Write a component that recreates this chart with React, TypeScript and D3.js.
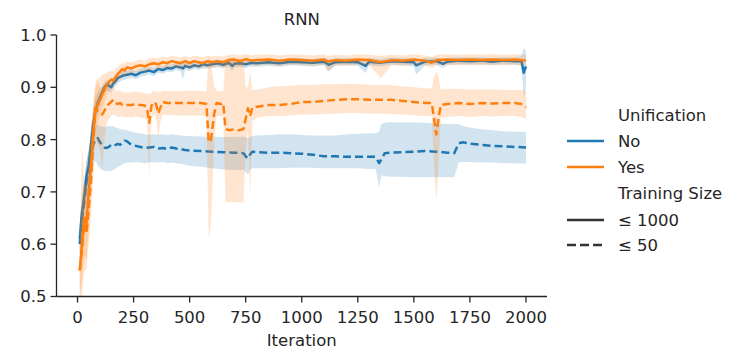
import React from "react";
import * as d3 from "d3";

type Row = [number, number, number, number]; // iteration, mean, lower, upper

const title = "RNN";
const xLabel = "Iteration";
const xTicks = [0, 250, 500, 750, 1000, 1250, 1500, 1750, 2000];
const yTicks = [0.5, 0.6, 0.7, 0.8, 0.9, 1.0];
const hueNames = ["No", "Yes"];
const sizeNames = ["≤ 1000", "≤ 50"];

// No unification, training size <= 1000
const noLarge: Row[] = [
  [10, 0.61, 0.58, 0.64], [20, 0.66, 0.63, 0.69], [30, 0.69, 0.66, 0.72], [40, 0.73, 0.7, 0.76],
  [50, 0.75, 0.72, 0.78], [60, 0.79, 0.76, 0.82], [70, 0.83, 0.8, 0.86], [80, 0.855, 0.83, 0.88],
  [90, 0.87, 0.85, 0.89], [100, 0.88, 0.865, 0.895], [110, 0.89, 0.876, 0.903], [120, 0.9, 0.888, 0.91],
  [130, 0.905, 0.894, 0.915], [140, 0.903, 0.892, 0.913], [150, 0.9, 0.89, 0.91], [160, 0.908, 0.898, 0.918],
  [170, 0.912, 0.902, 0.922], [180, 0.918, 0.908, 0.927], [190, 0.92, 0.911, 0.929], [200, 0.922, 0.913, 0.93],
  [220, 0.924, 0.916, 0.932], [240, 0.926, 0.918, 0.934], [260, 0.923, 0.915, 0.931], [280, 0.928, 0.92, 0.936],
  [300, 0.93, 0.922, 0.938], [320, 0.932, 0.925, 0.939], [340, 0.929, 0.921, 0.937], [360, 0.935, 0.928, 0.942],
  [380, 0.933, 0.926, 0.94], [400, 0.937, 0.93, 0.944], [420, 0.936, 0.929, 0.943], [440, 0.94, 0.933, 0.947],
  [460, 0.938, 0.93, 0.945], [470, 0.936, 0.915, 0.95], [480, 0.941, 0.933, 0.948], [500, 0.938, 0.931, 0.945],
  [520, 0.942, 0.935, 0.949], [540, 0.94, 0.933, 0.947], [560, 0.944, 0.937, 0.951], [580, 0.942, 0.935, 0.949],
  [600, 0.944, 0.937, 0.951], [625, 0.946, 0.939, 0.953], [650, 0.943, 0.936, 0.95], [675, 0.947, 0.94, 0.954],
  [690, 0.941, 0.93, 0.95], [700, 0.945, 0.938, 0.952], [725, 0.946, 0.939, 0.953], [750, 0.944, 0.937, 0.951],
  [775, 0.947, 0.94, 0.954], [800, 0.946, 0.939, 0.953], [850, 0.948, 0.941, 0.955], [900, 0.946, 0.939, 0.953],
  [950, 0.949, 0.942, 0.956], [1000, 0.948, 0.941, 0.955], [1050, 0.947, 0.94, 0.954], [1100, 0.949, 0.942, 0.956],
  [1120, 0.943, 0.93, 0.953], [1150, 0.948, 0.941, 0.955], [1200, 0.949, 0.942, 0.956], [1250, 0.948, 0.941, 0.955],
  [1285, 0.941, 0.927, 0.951], [1300, 0.949, 0.942, 0.956], [1350, 0.947, 0.94, 0.954], [1400, 0.95, 0.943, 0.957],
  [1450, 0.949, 0.942, 0.956], [1500, 0.948, 0.94, 0.955], [1510, 0.942, 0.924, 0.952], [1550, 0.949, 0.942, 0.956],
  [1600, 0.95, 0.943, 0.957], [1630, 0.945, 0.937, 0.953], [1650, 0.949, 0.942, 0.956], [1700, 0.951, 0.944, 0.958],
  [1750, 0.95, 0.943, 0.957], [1800, 0.951, 0.944, 0.958], [1850, 0.949, 0.942, 0.956], [1900, 0.951, 0.944, 0.958],
  [1950, 0.95, 0.943, 0.957], [1980, 0.95, 0.942, 0.96], [1990, 0.928, 0.88, 0.975], [2000, 0.94, 0.9, 0.97],
];

// Unification, training size <= 1000
const yesLarge: Row[] = [
  [10, 0.55, 0.5, 0.62], [20, 0.6, 0.53, 0.68], [30, 0.65, 0.58, 0.72], [40, 0.64, 0.57, 0.71],
  [50, 0.7, 0.63, 0.77], [60, 0.75, 0.69, 0.82], [70, 0.81, 0.76, 0.87], [80, 0.86, 0.81, 0.9],
  [90, 0.866, 0.83, 0.91], [100, 0.876, 0.845, 0.92], [110, 0.886, 0.86, 0.923], [120, 0.896, 0.87, 0.926],
  [130, 0.905, 0.885, 0.928], [140, 0.91, 0.895, 0.93], [150, 0.915, 0.9, 0.932], [160, 0.913, 0.9, 0.93],
  [170, 0.92, 0.906, 0.936], [180, 0.926, 0.912, 0.94], [190, 0.93, 0.917, 0.943], [200, 0.935, 0.922, 0.947],
  [210, 0.932, 0.92, 0.945], [220, 0.938, 0.926, 0.95], [240, 0.936, 0.925, 0.948], [260, 0.94, 0.929, 0.951],
  [280, 0.942, 0.931, 0.953], [300, 0.94, 0.929, 0.951], [320, 0.944, 0.933, 0.955], [340, 0.946, 0.935, 0.957],
  [360, 0.944, 0.933, 0.955], [380, 0.948, 0.937, 0.959], [400, 0.946, 0.935, 0.957], [420, 0.95, 0.939, 0.961],
  [440, 0.948, 0.937, 0.959], [460, 0.946, 0.935, 0.957], [480, 0.95, 0.939, 0.961], [500, 0.946, 0.935, 0.957],
  [520, 0.95, 0.94, 0.961], [540, 0.948, 0.938, 0.959], [560, 0.946, 0.936, 0.957], [580, 0.95, 0.94, 0.961],
  [600, 0.948, 0.938, 0.959], [625, 0.95, 0.94, 0.961], [650, 0.948, 0.938, 0.959], [675, 0.952, 0.942, 0.962],
  [700, 0.953, 0.943, 0.963], [725, 0.95, 0.94, 0.961], [750, 0.954, 0.944, 0.964], [775, 0.951, 0.941, 0.961],
  [800, 0.952, 0.942, 0.962], [850, 0.953, 0.943, 0.963], [900, 0.951, 0.941, 0.961], [950, 0.953, 0.943, 0.963],
  [1000, 0.952, 0.942, 0.962], [1050, 0.951, 0.941, 0.961], [1100, 0.953, 0.943, 0.963], [1116, 0.949, 0.93, 0.96],
  [1150, 0.952, 0.942, 0.962], [1200, 0.951, 0.941, 0.961], [1250, 0.953, 0.943, 0.963], [1300, 0.952, 0.942, 0.962],
  [1353, 0.948, 0.918, 0.96], [1400, 0.952, 0.942, 0.962], [1450, 0.951, 0.941, 0.961], [1500, 0.953, 0.943, 0.963],
  [1550, 0.951, 0.941, 0.961], [1580, 0.947, 0.937, 0.958], [1600, 0.952, 0.942, 0.962], [1650, 0.953, 0.943, 0.963],
  [1700, 0.952, 0.942, 0.962], [1750, 0.953, 0.943, 0.963], [1800, 0.952, 0.942, 0.962], [1850, 0.953, 0.943, 0.963],
  [1900, 0.952, 0.942, 0.962], [1950, 0.953, 0.943, 0.963], [2000, 0.951, 0.941, 0.962],
];

// No unification, training size <= 50
const noSmall: Row[] = [
  [10, 0.6, 0.56, 0.64], [20, 0.65, 0.6, 0.69], [30, 0.68, 0.63, 0.72], [40, 0.72, 0.67, 0.76],
  [50, 0.74, 0.69, 0.78], [60, 0.77, 0.72, 0.81], [70, 0.79, 0.75, 0.82], [80, 0.8, 0.76, 0.825],
  [90, 0.803, 0.75, 0.83], [100, 0.795, 0.745, 0.826], [110, 0.79, 0.742, 0.825], [120, 0.785, 0.74, 0.824],
  [130, 0.784, 0.74, 0.825], [140, 0.786, 0.74, 0.826], [150, 0.79, 0.74, 0.826], [160, 0.788, 0.742, 0.825],
  [170, 0.79, 0.745, 0.823], [180, 0.792, 0.748, 0.822], [190, 0.79, 0.75, 0.82], [200, 0.795, 0.753, 0.82],
  [210, 0.798, 0.755, 0.819], [220, 0.797, 0.756, 0.818], [240, 0.79, 0.756, 0.815], [260, 0.788, 0.757, 0.813],
  [280, 0.786, 0.756, 0.812], [300, 0.784, 0.755, 0.81], [320, 0.785, 0.756, 0.809], [340, 0.786, 0.757, 0.81],
  [360, 0.783, 0.756, 0.809], [380, 0.784, 0.757, 0.81], [400, 0.782, 0.755, 0.809], [420, 0.785, 0.756, 0.81],
  [440, 0.783, 0.755, 0.809], [460, 0.782, 0.754, 0.808], [480, 0.78, 0.752, 0.807], [500, 0.779, 0.75, 0.807],
  [550, 0.778, 0.748, 0.806], [600, 0.777, 0.745, 0.806], [650, 0.776, 0.743, 0.805], [700, 0.775, 0.742, 0.805],
  [740, 0.774, 0.742, 0.806], [750, 0.768, 0.738, 0.804], [760, 0.764, 0.733, 0.803], [770, 0.772, 0.742, 0.805],
  [780, 0.777, 0.745, 0.807], [800, 0.776, 0.745, 0.808], [850, 0.775, 0.745, 0.809], [900, 0.775, 0.745, 0.81],
  [950, 0.774, 0.746, 0.81], [1000, 0.773, 0.746, 0.809], [1050, 0.771, 0.746, 0.808], [1100, 0.768, 0.745, 0.808],
  [1150, 0.768, 0.745, 0.808], [1200, 0.767, 0.745, 0.81], [1250, 0.767, 0.745, 0.811], [1300, 0.767, 0.744, 0.812],
  [1330, 0.767, 0.744, 0.812], [1345, 0.755, 0.708, 0.815], [1355, 0.762, 0.732, 0.83], [1370, 0.774, 0.73, 0.832],
  [1400, 0.775, 0.729, 0.833], [1450, 0.776, 0.729, 0.833], [1500, 0.777, 0.728, 0.833], [1550, 0.778, 0.728, 0.832],
  [1600, 0.777, 0.728, 0.831], [1650, 0.775, 0.728, 0.83], [1680, 0.774, 0.728, 0.83], [1700, 0.793, 0.756, 0.83],
  [1720, 0.795, 0.757, 0.826], [1750, 0.792, 0.757, 0.823], [1800, 0.79, 0.756, 0.82], [1850, 0.788, 0.756, 0.818],
  [1900, 0.787, 0.755, 0.816], [1950, 0.786, 0.755, 0.815], [2000, 0.785, 0.754, 0.815],
];

// Unification, training size <= 50
const yesSmall: Row[] = [
  [10, 0.55, 0.5, 0.6], [20, 0.59, 0.5, 0.79], [30, 0.64, 0.55, 0.72], [40, 0.62, 0.55, 0.7],
  [50, 0.67, 0.6, 0.75], [60, 0.72, 0.65, 0.8], [70, 0.8, 0.73, 0.86], [80, 0.86, 0.8, 0.91],
  [90, 0.855, 0.79, 0.92], [100, 0.85, 0.78, 0.9], [110, 0.848, 0.74, 0.9], [120, 0.855, 0.8, 0.9],
  [130, 0.865, 0.83, 0.9], [140, 0.868, 0.84, 0.9], [150, 0.872, 0.845, 0.9], [160, 0.876, 0.848, 0.9],
  [170, 0.87, 0.845, 0.895], [180, 0.868, 0.843, 0.893], [190, 0.87, 0.845, 0.895], [200, 0.866, 0.843, 0.891],
  [220, 0.866, 0.843, 0.89], [240, 0.866, 0.842, 0.89], [260, 0.868, 0.844, 0.892], [280, 0.866, 0.842, 0.89],
  [300, 0.865, 0.841, 0.889], [310, 0.86, 0.835, 0.887], [320, 0.832, 0.73, 0.888], [330, 0.865, 0.84, 0.889],
  [340, 0.872, 0.848, 0.894], [350, 0.868, 0.843, 0.892], [360, 0.85, 0.8, 0.89], [370, 0.862, 0.835, 0.891],
  [380, 0.872, 0.848, 0.894], [400, 0.87, 0.847, 0.893], [450, 0.87, 0.846, 0.893], [500, 0.87, 0.846, 0.894],
  [550, 0.87, 0.846, 0.893], [575, 0.868, 0.844, 0.892], [585, 0.795, 0.61, 0.96], [595, 0.8, 0.64, 0.95],
  [610, 0.85, 0.8, 0.9], [620, 0.87, 0.845, 0.894], [640, 0.868, 0.844, 0.892], [650, 0.87, 0.845, 0.894],
  [660, 0.82, 0.68, 0.955], [680, 0.818, 0.68, 0.955], [700, 0.82, 0.68, 0.955], [720, 0.818, 0.68, 0.955],
  [740, 0.82, 0.68, 0.955], [750, 0.84, 0.78, 0.9], [760, 0.86, 0.82, 0.9], [770, 0.845, 0.69, 0.93],
  [780, 0.862, 0.835, 0.895], [800, 0.863, 0.842, 0.895], [850, 0.866, 0.845, 0.9], [900, 0.866, 0.845, 0.902],
  [950, 0.868, 0.846, 0.903], [1000, 0.872, 0.848, 0.905], [1050, 0.872, 0.848, 0.905], [1100, 0.874, 0.849, 0.906],
  [1150, 0.876, 0.85, 0.906], [1200, 0.877, 0.851, 0.907], [1250, 0.877, 0.851, 0.906], [1300, 0.876, 0.85, 0.905],
  [1350, 0.876, 0.85, 0.905], [1400, 0.876, 0.849, 0.904], [1450, 0.874, 0.848, 0.902], [1500, 0.872, 0.846, 0.9],
  [1550, 0.87, 0.845, 0.898], [1580, 0.87, 0.845, 0.897], [1590, 0.84, 0.75, 0.92], [1600, 0.81, 0.68, 0.93],
  [1610, 0.84, 0.75, 0.92], [1620, 0.866, 0.842, 0.896], [1650, 0.868, 0.843, 0.897], [1700, 0.87, 0.845, 0.897],
  [1750, 0.868, 0.843, 0.896], [1800, 0.87, 0.845, 0.896], [1850, 0.869, 0.844, 0.896], [1900, 0.87, 0.845, 0.895],
  [1950, 0.87, 0.845, 0.895], [1980, 0.868, 0.843, 0.895], [2000, 0.862, 0.84, 0.893],
];

const BLUE = "#1f77b4";
const ORANGE = "#ff7f0e";
const INK = "#262626";
const FONT = "'DejaVu Sans', sans-serif";
const FS = 16.5;
const LW = 2.5;
const DASH = "8,4";

const W = 733;
const H = 350;
const left = 56.5;
const right = 547;
const top = 35;
const bottom = 296.5;

export default function App() {
  const x = d3.scaleLinear().domain([-93.75, 2093.75]).range([left, right]);
  const y = d3.scaleLinear().domain([0.5, 1.0]).range([bottom, top]);

  const line = d3
    .line<Row>()
    .x((d) => x(d[0]))
    .y((d) => y(d[1]));
  const area = d3
    .area<Row>()
    .x((d) => x(d[0]))
    .y0((d) => y(d[2]))
    .y1((d) => y(d[3]));

  const series = [
    { data: noLarge, color: BLUE, dash: undefined as string | undefined },
    { data: noSmall, color: BLUE, dash: DASH },
    { data: yesLarge, color: ORANGE, dash: undefined },
    { data: yesSmall, color: ORANGE, dash: DASH },
  ];

  const legendX = 567;
  const legendTextX = 618;
  const legendItems = [
    { label: "Unification", y: 115, kind: "head" },
    { label: hueNames[0], y: 141, kind: "line", color: BLUE, dash: undefined },
    { label: hueNames[1], y: 167, kind: "line", color: ORANGE, dash: undefined },
    { label: "Training Size", y: 193, kind: "head" },
    { label: sizeNames[0], y: 220, kind: "line", color: "#333333", dash: undefined },
    { label: sizeNames[1], y: 245, kind: "line", color: "#333333", dash: "9,4" },
  ];

  return (
    <svg
      width={W}
      height={H}
      style={{ position: "absolute", left: 0, top: 0, background: "#fff" }}
      fontFamily={FONT}
    >
      <defs>
        <clipPath id="plotClip">
          <rect x={left} y={top} width={right - left} height={bottom - top} />
        </clipPath>
      </defs>
      <g clipPath="url(#plotClip)">
        {series.map((s, i) => (
          <g key={i}>
            <path d={area(s.data) || ""} fill={s.color} fillOpacity={0.2} stroke="none" />
            <path
              d={line(s.data) || ""}
              fill="none"
              stroke={s.color}
              strokeWidth={LW}
              strokeDasharray={s.dash}
              strokeLinejoin="round"
            />
          </g>
        ))}
      </g>

      {/* axes */}
      <line x1={left} x2={left} y1={top} y2={bottom} stroke={INK} strokeWidth={1.3} />
      <line x1={left} x2={right} y1={bottom} y2={bottom} stroke={INK} strokeWidth={1.3} />
      {yTicks.map((t) => (
        <g key={t}>
          <line x1={left - 6} x2={left} y1={y(t)} y2={y(t)} stroke={INK} strokeWidth={1.3} />
          <text
            x={left - 10}
            y={y(t)}
            dy="0.36em"
            textAnchor="end"
            fontSize={FS}
            fill={INK}
          >
            {t.toFixed(1)}
          </text>
        </g>
      ))}
      {xTicks.map((t) => (
        <g key={t}>
          <line x1={x(t)} x2={x(t)} y1={bottom} y2={bottom + 6} stroke={INK} strokeWidth={1.3} />
          <text x={x(t)} y={323} textAnchor="middle" fontSize={FS} fill={INK}>
            {t}
          </text>
        </g>
      ))}
      <text x={(left + right) / 2} y={346} textAnchor="middle" fontSize={FS} fill={INK}>
        {xLabel}
      </text>
      <text x={(left + right) / 2} y={25} textAnchor="middle" fontSize={FS} fill={INK}>
        {title}
      </text>

      {/* legend */}
      {legendItems.map((it, i) => (
        <g key={i}>
          {it.kind === "line" && (
            <line
              x1={legendX}
              x2={legendX + 37}
              y1={it.y}
              y2={it.y}
              stroke={it.color}
              strokeWidth={LW}
              strokeDasharray={it.dash}
            />
          )}
          <text x={legendTextX} y={it.y} dy="0.36em" fontSize={FS} fill={INK}>
            {it.label}
          </text>
        </g>
      ))}
    </svg>
  );
}
